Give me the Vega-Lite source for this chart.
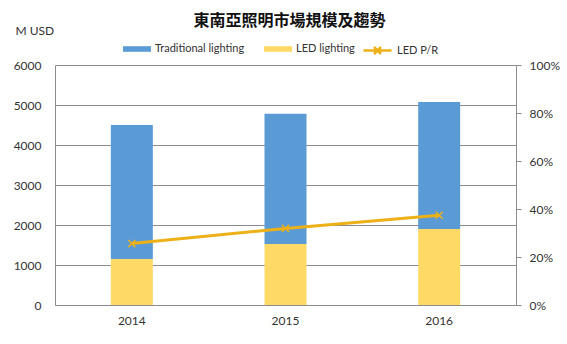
{
  "$schema": "https://vega.github.io/schema/vega-lite/v6.json",
  "width": 461,
  "height": 240,
  "autosize": {"type": "none"},
  "padding": {"left": 55, "top": 65, "right": 51, "bottom": 39},
  "background": "white",
  "title": {
    "text": "東南亞照明市場規模及趨勢",
    "font": "Noto Sans CJK TC",
    "fontSize": 16,
    "fontWeight": "bold",
    "color": "#111",
    "anchor": "middle",
    "offset": -5,
    "dx": 4
  },
  "datasets": {
    "bars": [
      {"year": "2014", "series": "Traditional lighting", "value": 3350, "ord": 2},
      {"year": "2014", "series": "LED lighting", "value": 1150, "ord": 1},
      {"year": "2015", "series": "Traditional lighting", "value": 3255, "ord": 2},
      {"year": "2015", "series": "LED lighting", "value": 1525, "ord": 1},
      {"year": "2016", "series": "Traditional lighting", "value": 3175, "ord": 2},
      {"year": "2016", "series": "LED lighting", "value": 1900, "ord": 1}
    ],
    "pr": [
      {"year": "2014", "series": "LED P/R", "pr": 0.256},
      {"year": "2015", "series": "LED P/R", "pr": 0.319},
      {"year": "2016", "series": "LED P/R", "pr": 0.374}
    ]
  },
  "config": {
    "font": "Lato",
    "view": {"stroke": null},
    "axis": {
      "labelFont": "Lato",
      "labelFontSize": 12,
      "labelColor": "#333",
      "domainColor": "#8c8c8c",
      "gridColor": "#8c8c8c",
      "tickColor": "#8c8c8c"
    },
    "legend": {
      "labelFont": "Lato",
      "labelFontSize": 11,
      "labelColor": "#333",
      "padding": 0
    }
  },
  "layer": [
    {
      "data": {"name": "bars"},
      "mark": {"type": "bar", "size": 42},
      "encoding": {
        "x": {
          "field": "year",
          "type": "nominal",
          "sort": null,
          "axis": {"title": null, "labelAngle": 0, "ticks": false, "labelPadding": 10, "domainColor": "#8c8c8c"}
        },
        "y": {
          "field": "value",
          "type": "quantitative",
          "stack": "zero",
          "scale": {"domain": [0, 6000], "nice": false},
          "axis": {
            "values": [0, 1000, 2000, 3000, 4000, 5000, 6000],
            "format": "d",
            "ticks": false,
            "labelPadding": 14,
            "title": "M USD",
            "titleAngle": 0,
            "titleX": -40,
            "titleY": -35,
            "titleAlign": "left",
            "titleBaseline": "middle",
            "titleFont": "Lato",
            "titleFontSize": 12,
            "titleFontWeight": "normal",
            "titleColor": "#333"
          }
        },
        "color": {
          "field": "series",
          "type": "nominal",
          "scale": {"domain": ["Traditional lighting", "LED lighting"], "range": ["#5B9BD5", "#FFD966"]},
          "legend": {
            "title": null,
            "orient": "none",
            "direction": "horizontal",
            "legendX": 68,
            "legendY": -30,
            "symbolType": "M-1,-0.2H1V0.2H-1Z",
            "symbolSize": 784,
            "symbolStrokeWidth": 0,
            "labelOffset": 4,
            "columnPadding": 19
          }
        },
        "order": {"field": "ord", "type": "quantitative", "sort": "ascending"}
      }
    },
    {
      "data": {"name": "pr"},
      "mark": {
        "type": "line",
        "strokeWidth": 3,
        "point": {"shape": "M-1,-1L1,1M-1,1L1,-1", "filled": false, "size": 50, "strokeWidth": 1.5, "color": "#F7D774", "opacity": 1}
      },
      "encoding": {
        "x": {"field": "year", "type": "nominal", "sort": null},
        "y": {
          "field": "pr",
          "type": "quantitative",
          "scale": {"domain": [0, 1], "nice": false},
          "axis": {
            "orient": "right",
            "title": null,
            "format": ".0%",
            "values": [0, 0.2, 0.4, 0.6, 0.8, 1],
            "grid": false,
            "tickSize": 5,
            "labelPadding": 8
          }
        },
        "stroke": {
          "field": "series",
          "type": "nominal",
          "scale": {"domain": ["LED P/R"], "range": ["#EDB117"]},
          "legend": {
            "title": null,
            "orient": "none",
            "legendX": 307,
            "legendY": -30,
            "symbolType": "M-1,0H1M-0.25,-0.25L0.25,0.25M-0.25,0.25L0.25,-0.25",
            "symbolSize": 784,
            "symbolStrokeWidth": 2.5,
            "labelOffset": 4
          }
        }
      }
    }
  ],
  "resolve": {"scale": {"y": "independent"}}
}
